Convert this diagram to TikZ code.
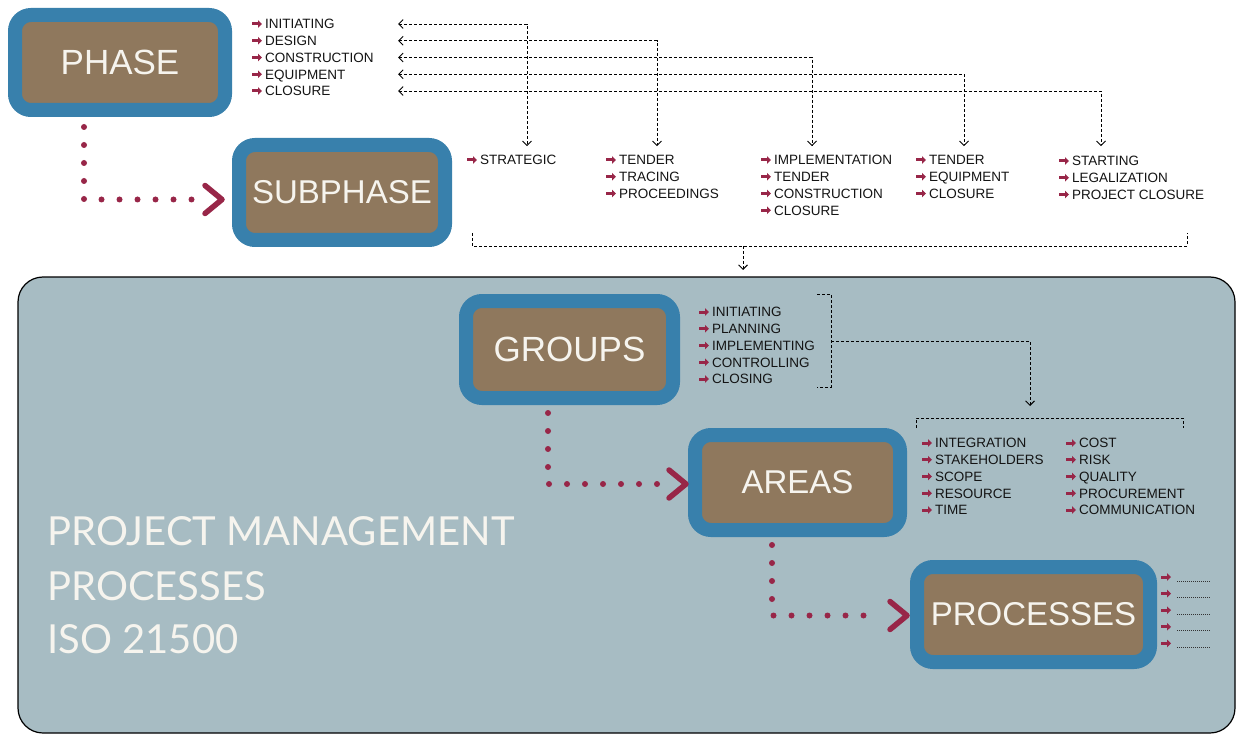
\documentclass[tikz,border=0pt]{standalone}
\usepackage{fontspec}
\setmainfont{Liberation Sans}
\newfontfamily\titlefont{Lato}
\usetikzlibrary{arrows.meta,calc}

\definecolor{ringblue}{RGB}{56,128,172}
\definecolor{boxbrown}{RGB}{143,120,93}
\definecolor{panelgrey}{RGB}{167,188,195}
\definecolor{dotred}{RGB}{152,38,72}
\definecolor{inktext}{RGB}{20,20,20}
\definecolor{softwhite}{RGB}{246,244,238}

% one column of list entries, each with a small red arrow in front
\newcommand\itemcol[4]{%
  \foreach \t [count=\i] in {#4} {%
    \node[item] (#1\i) at (#2,{#3+16.75*(\i-1)}) {\t};
    \draw[bul] ($(#1\i.west)+(-13,0)$) -- ($(#1\i.west)+(-3,0)$);
  }}

\begin{document}
\begin{tikzpicture}[x=1pt,y=-1pt,
  stage/.style={rounded corners=16pt, fill=boxbrown, draw=ringblue, line width=14pt,
    text=softwhite, inner sep=0pt},
  item/.style={anchor=west, inner sep=0pt, outer sep=0pt, text height=9.7pt,
    text depth=0pt, text=inktext, font=\fontsize{13.5}{14}\selectfont},
  bul/.style={draw=dotred, line width=3pt, -{Triangle[length=4pt,width=7.5pt]}},
  dconn/.style={draw=black, line width=0.9pt, dash pattern=on 3pt off 2pt},
  barb/.style={-{Straight Barb[length=4.5pt,width=9pt]}},
  dbarb/.style={{Straight Barb[length=4.5pt,width=9pt]}-{Straight Barb[length=4.5pt,width=9pt]}},
  dotline/.style={draw=dotred, line width=6pt, line cap=round, dash pattern=on 0pt off 18pt},
  chev/.style={draw=dotred, line width=5.5pt, line join=round, line cap=round},
  fine/.style={draw=black!80, line width=0.7pt, dash pattern=on 1pt off 1pt},
  heading/.style={anchor=base west, inner sep=0pt, text=softwhite,
    font=\titlefont\fontsize{40}{54}\selectfont}
]
\useasboundingbox (0,0) rectangle (1236,735);
\fill[white] (0,0) rectangle (1236,735);

% lower panel
\draw[fill=panelgrey, line width=1.2pt, rounded corners=25pt] (18,277) rectangle (1235,733);

% stage boxes
\node[stage, minimum width=210pt, minimum height=95pt, font=\fontsize{35}{35}\selectfont]
  (phase) at (120,62.5) {PHASE};
\node[stage, minimum width=206pt, minimum height=95pt, font=\fontsize{33}{33}\selectfont]
  (sub) at (342,192.5) {SUBPHASE};
\node[stage, minimum width=207pt, minimum height=97pt, font=\fontsize{35}{35}\selectfont]
  (groups) at (569.5,349.5) {GROUPS};
\node[stage, minimum width=205pt, minimum height=95pt, font=\fontsize{33}{33}\selectfont]
  (areas) at (797.5,482.5) {AREAS};
\node[stage, minimum width=233pt, minimum height=95pt, font=\fontsize{33}{33}\selectfont]
  (proc) at (1033.5,614.5) {PROCESSES};

% lists
\itemcol{ph}{265}{24}{INITIATING,DESIGN,CONSTRUCTION,EQUIPMENT,CLOSURE}
\itemcol{sa}{480}{160}{STRATEGIC}
\itemcol{sb}{619}{160}{TENDER,TRACING,PROCEEDINGS}
\itemcol{sc}{774}{160}{IMPLEMENTATION,TENDER,CONSTRUCTION,CLOSURE}
\itemcol{sd}{929}{160}{TENDER,EQUIPMENT,CLOSURE}
\itemcol{se}{1072}{161}{STARTING,LEGALIZATION,PROJECT CLOSURE}
\itemcol{gr}{712}{312}{INITIATING,PLANNING,IMPLEMENTING,CONTROLLING,CLOSING}
\itemcol{aa}{935}{443}{INTEGRATION,STAKEHOLDERS,SCOPE,RESOURCE,TIME}
\itemcol{ab}{1079}{443}{COST,RISK,QUALITY,PROCUREMENT,COMMUNICATION}

% placeholder entries of the processes
\foreach \i in {1,...,5} {
  \coordinate (pr\i) at (1171,{577+16.6*(\i-1)});
  \draw[bul] ($(pr\i)+(-10,0)$) -- (pr\i);
  \draw[fine] ($(pr\i)+(6,4)$) -- ($(pr\i)+(39,4)$);
}

% dashed links between phases and subphases
\coordinate (lx) at (398,0);
\coordinate (v1) at (527,0);
\coordinate (v2) at (657,0);
\coordinate (v3) at (812,0);
\coordinate (v4) at (964,0);
\coordinate (v5) at (1101,0);
\draw[dconn,dbarb] (ph1.west -| lx) -| ($(v1 |- sa1.north)+(0,-9)$);
\draw[dconn,dbarb] (ph2.west -| lx) -| ($(v2 |- sb1.north)+(0,-9)$);
\draw[dconn,dbarb] (ph3.west -| lx) -| ($(v3 |- sc1.north)+(0,-9)$);
\draw[dconn,dbarb] (ph4.west -| lx) -| ($(v4 |- sd1.north)+(0,-9)$);
\draw[dconn,dbarb] (ph5.west -| lx) -| ($(v5 |- se1.north)+(0,-10)$);

% bracket gathering the subphases
\coordinate (bl) at (472,233);
\coordinate (br) at (1187,233);
\coordinate (bm) at (743,246);
\draw[dconn] (bl) -- ++(0,13) -| (br);
\draw[dconn,barb] (bm) -- ++(0,24);

% bracket of the groups, leading to the areas
\coordinate (gt) at (817,294);
\coordinate (gb) at (817,387);
\coordinate (gm) at (831,341);
\coordinate (gx) at (1030,406);
\draw[dconn] (gt) -- ++(14,0) -- ($(gb)+(14,0)$) -- (gb);
\draw[dconn,barb] (gm) -| (gx);
\coordinate (al) at (916,428);
\coordinate (ar) at (1183,428);
\draw[dconn] (al) -- ++(0,-10) -| (ar);

% dotted red connectors between the stages
\coordinate (d1) at (84,127);
\coordinate (d2) at (548,413);
\coordinate (d3) at (772,545);
\draw[dotline] (d1) |- ($(sub.west)+(-40,7)$);
\draw[chev] ($(sub.west)+(-27,-7)$) -- ($(sub.west)+(-10,7)$) -- ($(sub.west)+(-27,21)$);
\draw[dotline] (d2) |- ($(areas.west)+(-30,1.5)$);
\draw[chev] ($(areas.west)+(-19,-12.5)$) -- ($(areas.west)+(-2,1.5)$) -- ($(areas.west)+(-19,15.5)$);
\draw[dotline] (d3) |- ($(proc.west)+(-30,1)$);
\draw[chev] ($(proc.west)+(-20,-13)$) -- ($(proc.west)+(-3,1)$) -- ($(proc.west)+(-20,15)$);

% heading
\node[heading] (h1) at (47,545) {PROJECT MANAGEMENT};
\node[heading] (h2) at (47,600) {PROCESSES};
\node[heading] (h3) at (47,653) {ISO 21500};
\end{tikzpicture}
\end{document}
